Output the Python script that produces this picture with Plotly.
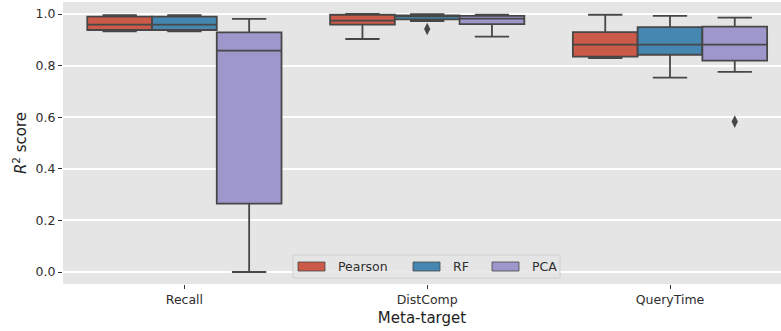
import plotly.graph_objects as go

# Meta-targets along the x axis and the three models compared
categories = ["Recall", "DistComp", "QueryTime"]
models = ["Pearson", "RF", "PCA"]

# Box statistics per model, one value per meta-target
pearson_low = [0.933, 0.903, 0.829]
pearson_q1 = [0.938, 0.959, 0.835]
pearson_med = [0.959, 0.974, 0.881]
pearson_q3 = [0.990, 0.997, 0.930]
pearson_high = [0.996, 1.000, 0.997]

rf_low = [0.933, 0.972, 0.753]
rf_q1 = [0.938, 0.979, 0.842]
rf_med = [0.959, 0.993, 0.881]
rf_q3 = [0.990, 0.995, 0.949]
rf_high = [0.996, 0.999, 0.993]

pca_low = [0.000, 0.912, 0.776]
pca_q1 = [0.265, 0.961, 0.819]
pca_med = [0.858, 0.982, 0.881]
pca_q3 = [0.929, 0.993, 0.951]
pca_high = [0.981, 0.997, 0.986]

# Outliers: (model, meta-target, value)
outlier_model = ["RF", "PCA"]
outlier_cat = ["DistComp", "QueryTime"]
outlier_val = [0.942, 0.583]

colors = {"Pearson": "#CC5A49", "RF": "#4587B0", "PCA": "#9E97CC"}
stats = {
    "Pearson": (pearson_low, pearson_q1, pearson_med, pearson_q3, pearson_high),
    "RF": (rf_low, rf_q1, rf_med, rf_q3, rf_high),
    "PCA": (pca_low, pca_q1, pca_med, pca_q3, pca_high),
}

LINE = "#474747"
TEXT = "#2e2e2e"
FONT = "DejaVu Sans"
group_width = 0.8
box_w = group_width / len(models)


def offset(model):
    i = models.index(model)
    return -group_width / 2 + box_w * (i + 0.5)


fig = go.Figure()
for m in models:
    low, q1, med, q3, high = stats[m]
    fig.add_trace(go.Box(
        x=[c + offset(m) for c in range(len(categories))],
        lowerfence=low, q1=q1, median=med, q3=q3, upperfence=high,
        width=box_w, whiskerwidth=0.53,
        fillcolor=colors[m], line=dict(color=LINE, width=1.8),
        name=m, showlegend=False, hoverinfo="skip",
    ))

fig.add_trace(go.Scatter(
    x=[categories.index(c) + offset(m) for m, c in zip(outlier_model, outlier_cat)],
    y=outlier_val, mode="markers",
    marker=dict(symbol="diamond-tall", size=9, color=LINE),
    showlegend=False, hoverinfo="skip",
))

# Plot-area geometry in pixels (used to place the legend box)
W, H = 781, 331
L, R, T, B = 63, 0, 2, 47
pw, ph = W - L - R, H - T - B


def px(x):
    return (x - L) / pw


def py(y):
    return (H - B - y) / ph


shapes = [dict(type="rect", xref="paper", yref="paper",
               x0=px(293), x1=px(560), y0=py(278), y1=py(255),
               fillcolor="rgba(229,229,229,0.85)", line=dict(color="#d0d0d0", width=1),
               layer="above")]
annotations = []
patch_x = [298, 413, 492]
for m, x0 in zip(models, patch_x):
    shapes.append(dict(type="rect", xref="paper", yref="paper",
                       x0=px(x0), x1=px(x0 + 27), y0=py(271), y1=py(262),
                       fillcolor=colors[m], line=dict(color=LINE, width=0.8),
                       layer="above"))
    annotations.append(dict(xref="paper", yref="paper", x=px(x0 + 38), y=py(266.5),
                            text=m, showarrow=False, xanchor="left", yanchor="middle",
                            font=dict(family=FONT, size=12.5, color=TEXT)))

fig.update_layout(
    width=W, height=H,
    margin=dict(l=L, r=R, t=T, b=B, pad=0),
    paper_bgcolor="white", plot_bgcolor="#E5E5E5",
    font=dict(family=FONT, color=TEXT),
    shapes=shapes, annotations=annotations,
    showlegend=False,
)
fig.update_xaxes(
    range=[-0.5, -0.5 + pw / 242.8],
    tickmode="array", tickvals=list(range(len(categories))), ticktext=categories,
    showgrid=False, zeroline=False, showline=False,
    ticks="outside", ticklen=4, tickwidth=1.2, tickcolor="#333",
    tickfont=dict(size=12.5, color=TEXT),
    title=dict(text="Meta-target", font=dict(size=15, color="#1e1e1e"), standoff=6),
)
fig.update_yaxes(
    range=[-0.0465, 1.0465],
    tickmode="array", tickvals=[0, 0.2, 0.4, 0.6, 0.8, 1.0],
    ticktext=["0.0", "0.2", "0.4", "0.6", "0.8", "1.0"],
    showgrid=True, gridcolor="white", gridwidth=1.6, zeroline=False, showline=False,
    ticks="outside", ticklen=4, tickwidth=1.2, tickcolor="#333",
    tickfont=dict(size=12.5, color=TEXT),
    title=dict(text="<i>R</i><sup>2</sup> score", font=dict(size=15, color="#1e1e1e"), standoff=5),
)

fig.write_html("out.html")
